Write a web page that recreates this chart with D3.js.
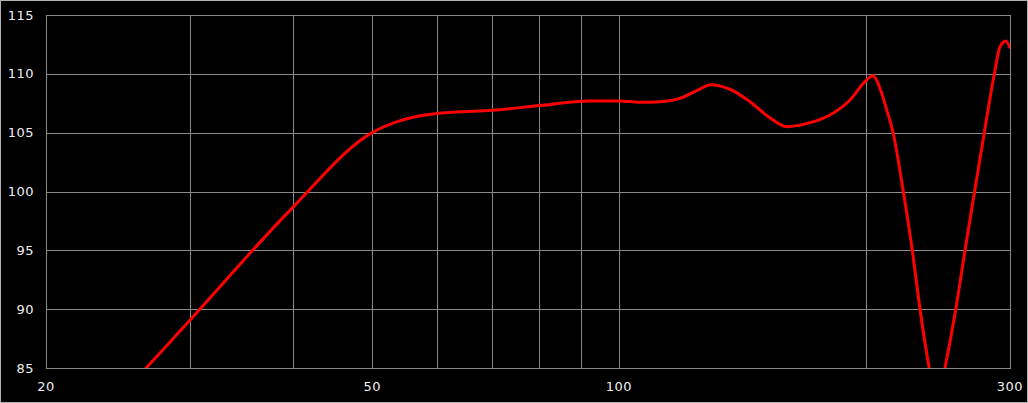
<!DOCTYPE html>
<html><head><meta charset="utf-8">
<script src="https://cdn.jsdelivr.net/npm/d3@7"></script>
<style>
html,body{margin:0;padding:0;background:#000;}
svg{display:block;}
</style></head>
<body>
<script>
const freqs = [20, 26.5, 30, 39.7, 50, 54, 58, 63, 70, 80, 92, 100, 106.1, 112.2, 118.7, 125.6, 129.4, 136.6, 144.5, 152.9, 160.2, 171.1, 180.9, 191.4, 199.6, 204.0, 209.2, 212.2, 216.1, 222.3, 228.0, 233.0, 239.1, 244.4, 249.9, 257.6, 264.4, 271.6, 279.1, 287.1, 291.7, 296.5, 300];
const levels = [75.7, 85, 89.1, 98.4, 105.0, 106.0, 106.5, 106.75, 106.9, 107.3, 107.7, 107.7, 107.58, 107.63, 107.92, 108.71, 109.08, 108.69, 107.63, 106.25, 105.51, 105.85, 106.5, 107.78, 109.33, 109.84, 108.35, 106.93, 104.95, 100.0, 95.0, 90.0, 85.0, 81.8, 85.0, 90.0, 95.0, 100.0, 105.0, 110.0, 112.3, 112.79, 112.17];
const xTickLabels = [20, 50, 100, 300];
const xGrid = [30, 40, 50, 60, 70, 80, 90, 100, 200];
const yTicks = [85, 90, 95, 100, 105, 110, 115];

const W = 1028, H = 403;
const m = {left: 46, right: 18, top: 15, bottom: 35};
const svg = d3.select("body").append("svg").attr("width", W).attr("height", H);
svg.append("rect").attr("x", 0.5).attr("y", 0.5).attr("width", W - 1).attr("height", H - 1)
  .attr("fill", "#000").attr("stroke", "#b0b0b0").attr("stroke-width", 1);

const x = d3.scaleLog().domain([20, 300]).range([m.left, W - m.right]);
const y = d3.scaleLinear().domain([85, 115]).range([H - m.bottom, m.top]);

const g = svg.append("g");
g.selectAll("line.vg").data(xGrid).join("line")
  .attr("x1", d => Math.round(x(d)) + 0.5).attr("x2", d => Math.round(x(d)) + 0.5)
  .attr("y1", y(115)).attr("y2", y(85)).attr("stroke", "#8a8a8a").attr("stroke-width", 1);
g.selectAll("line.hg").data(yTicks).join("line")
  .attr("y1", d => Math.round(y(d)) + 0.5).attr("y2", d => Math.round(y(d)) + 0.5)
  .attr("x1", x(20)).attr("x2", x(300)).attr("stroke", "#8a8a8a").attr("stroke-width", 1);
g.append("rect").attr("x", Math.round(x(20)) + 0.5).attr("y", Math.round(y(115)) + 0.5)
  .attr("width", Math.round(x(300)) - Math.round(x(20))).attr("height", Math.round(y(85)) - Math.round(y(115)))
  .attr("fill", "none").attr("stroke", "#8a8a8a");

g.selectAll("text.yl").data(yTicks).join("text")
  .attr("x", 34).attr("y", d => y(d)).attr("dy", "0.35em").attr("text-anchor", "end")
  .attr("fill", "#eeeeee").attr("font-family", "DejaVu Sans, sans-serif").attr("font-size", 13)
  .attr("letter-spacing", "0.5px")
  .text(d => d);
g.selectAll("text.xl").data(xTickLabels).join("text")
  .attr("x", d => x(d)).attr("y", 386).attr("dy", "0.35em").attr("text-anchor", "middle")
  .attr("fill", "#eeeeee").attr("font-family", "DejaVu Sans, sans-serif").attr("font-size", 13)
  .attr("letter-spacing", "0.5px")
  .text(d => d);

svg.append("clipPath").attr("id", "clip").append("rect")
  .attr("x", x(20)).attr("y", y(115)).attr("width", x(300) - x(20)).attr("height", y(85) - y(115));

const data = freqs.map((f, i) => [f, levels[i]]);
const line = d3.line().x(d => x(d[0])).y(d => y(d[1])).curve(d3.curveMonotoneX);
svg.append("path").datum(data).attr("clip-path", "url(#clip)")
  .attr("fill", "none").attr("stroke", "#ff0000").attr("stroke-width", 3)
  .attr("stroke-linejoin", "round").attr("d", line);
</script>
</body></html>
